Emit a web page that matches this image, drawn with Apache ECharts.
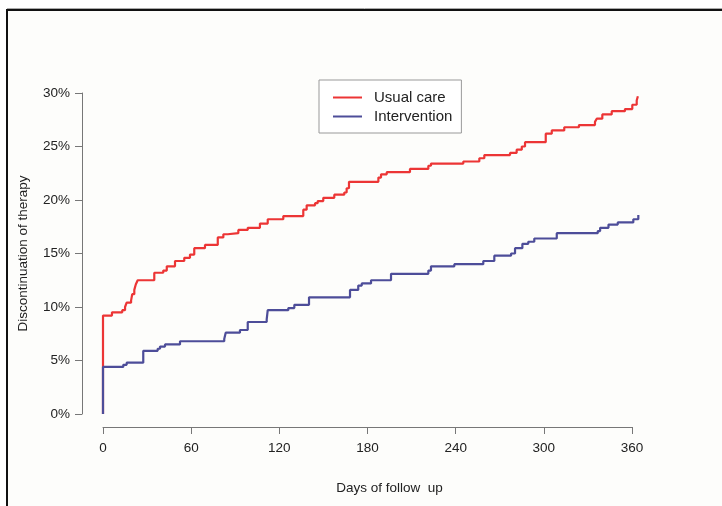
<!DOCTYPE html>
<html>
<head>
<meta charset="utf-8">
<script src="https://cdn.jsdelivr.net/npm/echarts@6/dist/echarts.min.js"></script>
<style>
html,body{margin:0;padding:0;background:#ffffff;}
#chart{width:722px;height:506px;}
</style>
</head>
<body>
<div id="chart"></div>
<script>
const xTicks = [0, 60, 120, 180, 240, 300, 360];
const yTicks = [0, 5, 10, 15, 20, 25, 30];
const seriesNames = ['Usual care', 'Intervention'];

const usualDays = [0,0,6.1,13.1,15.0,16.1,19.1,19.9,21.3,22.3,23.6,34.9,41.0,43.4,49.0,55.3,59.2,62.1,69.4,78.1,81.9,84.9,92.1,98.5,106.8,112.1,122.7,136.3,138.6,144.3,146.1,149.9,157.4,164.2,165.8,167.4,187.4,189.2,193.1,208.9,221.4,223.2,245.2,256.1,259.5,277.0,281.5,285.0,287.2,301.3,305.4,313.9,323.9,334.8,336.0,339.8,346.2,355.2,360.2,363.2,364];
const usualPct  = [0,9.2,9.5,9.7,10.0,10.4,10.6,11.2,11.6,12.1,12.5,13.2,13.4,13.8,14.3,14.6,14.9,15.5,15.8,16.5,16.8,16.9,17.2,17.4,17.8,18.2,18.5,19.1,19.5,19.7,19.9,20.2,20.5,20.7,21.1,21.7,22.1,22.4,22.6,22.9,23.2,23.4,23.6,23.9,24.2,24.4,24.7,25.0,25.4,26.2,26.5,26.8,27.0,27.3,27.6,28.0,28.3,28.5,28.9,29.3,29.7];

const interDays = [0,0,13.8,16.1,27.4,37.2,38.8,42.2,52.4,82.5,83.5,93.2,98.5,111.4,112.1,126.1,130.2,140.2,168.1,173.7,176.1,182.4,196.0,221.4,223.2,239.1,258.8,266.3,277.7,280.4,285.4,289.4,293.5,308.8,336.7,338.3,344.0,350.3,360.9,364.3];
const interPct  = [0,4.4,4.6,4.8,5.9,6.1,6.3,6.5,6.8,7.0,7.6,7.85,8.6,8.85,9.7,9.9,10.2,10.9,11.6,12.0,12.2,12.5,13.1,13.4,13.8,14.0,14.3,14.8,15.0,15.5,15.9,16.1,16.4,16.9,17.1,17.4,17.7,17.9,18.2,18.6];

const zip = (a, b) => a.map((v, i) => [v, b[i]]);
const FONT = '"Liberation Sans", Arial, sans-serif';
const chart = echarts.init(document.getElementById('chart'), null, {renderer: 'canvas'});

// plot geometry: 0..360 days -> 103..632 px ; 0..30 % -> 414..93 px
const X0 = 103, X360 = 632, W = 722, H = 506;
const pxPerDay = (X360 - X0) / 360;
const dataMaxX = 380; // extended data range so late steps are not cut
const dataRight = W - (X0 + dataMaxX * pxPerDay);

chart.setOption({
  animation: false,
  backgroundColor: '#ffffff',
  graphic: [
    {type: 'rect', z: -10, shape: {x: 7, y: 10, width: 760, height: 560},
     style: {fill: '#fdfdfb', stroke: '#111111', lineWidth: 2}},
    {type: 'line', z: -10, shape: {x1: 7, y1: 8.5, x2: 722, y2: 8.5},
     style: {stroke: '#aaaaaa', lineWidth: 1}}
  ],
  legend: {
    orient: 'vertical',
    left: 319, top: 80,
    padding: [8, 9, 7, 14],
    itemGap: 0,
    itemWidth: 29, itemHeight: 2,
    icon: 'rect',
    borderColor: '#999999', borderWidth: 1,
    backgroundColor: '#ffffff',
    textStyle: {fontFamily: FONT, fontSize: 15, lineHeight: 19, color: '#222', padding: [0, 0, 0, 7]},
    data: seriesNames
  },
  grid: [
    {left: X0, right: W - X360, top: 93, bottom: 92, containLabel: false},
    {left: X0, right: dataRight, top: 93, bottom: 92, containLabel: false}
  ],
  xAxis: [
    {
      gridIndex: 0, type: 'value', min: xTicks[0], max: xTicks[xTicks.length - 1], interval: 60,
      offset: 13,
      name: 'Days of follow  up', nameLocation: 'middle', nameGap: 54,
      nameTextStyle: {fontFamily: FONT, fontSize: 13.5, color: '#222', padding: [0, 0, 0, 44]},
      axisLine: {show: true, onZero: false, lineStyle: {color: '#777', width: 1}},
      axisTick: {show: true, length: 7, lineStyle: {color: '#777'}},
      axisLabel: {fontFamily: FONT, fontSize: 13.5, color: '#222', margin: 14},
      splitLine: {show: false}
    },
    {
      gridIndex: 1, type: 'value', min: 0, max: dataMaxX, show: false,
      axisLine: {onZero: false}, splitLine: {show: false}
    }
  ],
  yAxis: [
    {
      gridIndex: 0, type: 'value', min: yTicks[0], max: yTicks[yTicks.length - 1], interval: 5,
      offset: 21,
      name: 'Discontinuation of therapy', nameLocation: 'middle', nameGap: 52,
      nameTextStyle: {fontFamily: FONT, fontSize: 13.5, color: '#222'},
      axisLine: {show: true, onZero: false, lineStyle: {color: '#777', width: 1}},
      axisTick: {show: true, length: 7, lineStyle: {color: '#777'}},
      axisLabel: {fontFamily: FONT, fontSize: 13.5, color: '#222', margin: 12, formatter: '{value}%'},
      splitLine: {show: false}
    },
    {
      gridIndex: 1, type: 'value', min: yTicks[0], max: yTicks[yTicks.length - 1], show: false,
      axisLine: {onZero: false}, splitLine: {show: false}
    }
  ],
  series: [
    {name: seriesNames[0], type: 'line', xAxisIndex: 1, yAxisIndex: 1, step: 'end', symbol: 'none', clip: false,
     color: '#ec3535', lineStyle: {width: 2.2, color: '#ec3535'}, data: zip(usualDays, usualPct)},
    {name: seriesNames[1], type: 'line', xAxisIndex: 1, yAxisIndex: 1, step: 'end', symbol: 'none', clip: false,
     color: '#4d4d99', lineStyle: {width: 2.2, color: '#4d4d99'}, data: zip(interDays, interPct)}
  ]
});
</script>
</body>
</html>
